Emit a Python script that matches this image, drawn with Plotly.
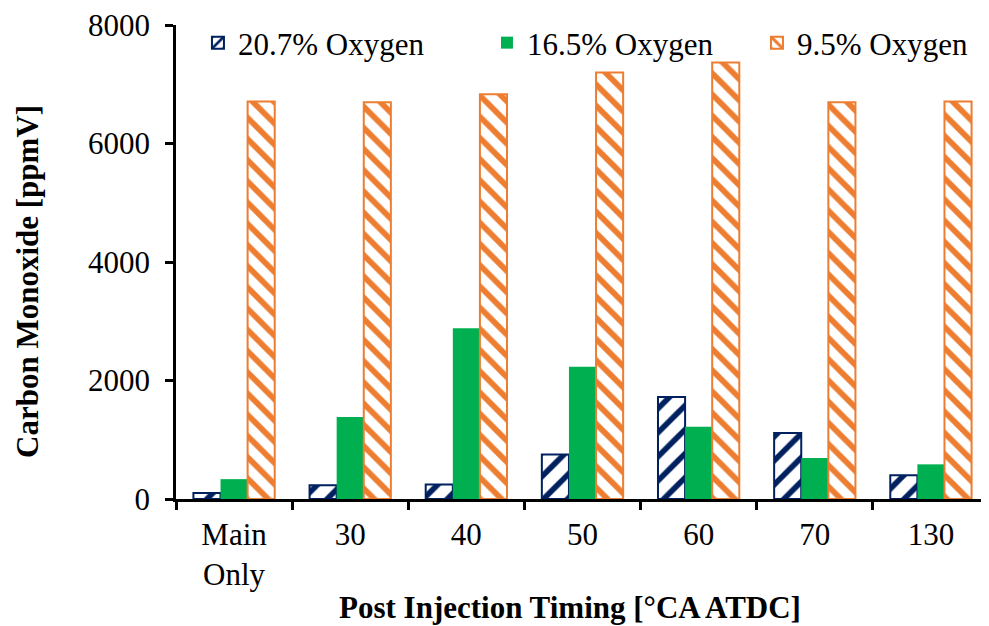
import plotly.graph_objects as go

categories = ["Main<br>Only", "30", "40", "50", "60", "70", "130"]
series_names = ["20.7% Oxygen", "16.5% Oxygen", "9.5% Oxygen"]
co_20_7 = [100, 230, 245, 750, 1720, 1115, 400]
co_16_5 = [335, 1385, 2880, 2230, 1220, 690, 585]
co_9_5 = [6710, 6695, 6830, 7200, 7365, 6695, 6710]
y_ticks = [0, 2000, 4000, 6000, 8000]

NAVY = "#002060"
GREEN = "#00B050"
ORANGE = "#ED7D31"
FONT = "Liberation Serif"

fig = go.Figure()
fig.add_trace(go.Bar(
    x=categories, y=co_20_7, name=series_names[0], legend="legend",
    marker=dict(color="white", line=dict(color=NAVY, width=2),
                pattern=dict(shape="/", fgcolor=NAVY, bgcolor="white", size=17,
                             solidity=0.33, fgopacity=1, fillmode="replace")),
))
fig.add_trace(go.Bar(
    x=categories, y=co_16_5, name=series_names[1], legend="legend2",
    marker=dict(color=GREEN, line=dict(color=GREEN, width=0)),
))
fig.add_trace(go.Bar(
    x=categories, y=co_9_5, name=series_names[2], legend="legend3",
    marker=dict(color="white", line=dict(color=ORANGE, width=2),
                pattern=dict(shape="\\", fgcolor=ORANGE, bgcolor="white", size=15,
                             solidity=0.38, fgopacity=1, fillmode="replace")),
))

leg_common = dict(orientation="h", yanchor="top", xanchor="left", y=1.019,
                  bgcolor="rgba(0,0,0,0)", font=dict(family=FONT, size=31))

fig.update_layout(
    width=981, height=618,
    margin=dict(l=168, r=0, t=15, b=127),
    paper_bgcolor="white", plot_bgcolor="white",
    font=dict(family=FONT, size=31, color="black"),
    barmode="group", bargap=0.3, bargroupgap=0,
    showlegend=True,
    legend=dict(x=0.027, **leg_common),
    legend2=dict(x=0.3825, **leg_common),
    legend3=dict(x=0.7146, **leg_common),
    xaxis=dict(
        type="category", range=[-0.5, 6.5],
        showline=True, linecolor="black", linewidth=2.5,
        ticks="outside", ticklen=8, tickwidth=2.5, tickcolor="black",
        tickson="boundaries", showgrid=False, zeroline=False,
        ticklabelstandoff=6, ticklabeloverflow="allow",
        tickfont=dict(family=FONT, size=31),
    ),
    yaxis=dict(
        range=[0, 8000], tickvals=y_ticks,
        showline=True, linecolor="black", linewidth=2.5,
        ticks="outside", ticklen=8, tickwidth=2.5, tickcolor="black",
        showgrid=False, zeroline=False,
        ticklabelstandoff=9, ticklabeloverflow="allow",
        tickfont=dict(family=FONT, size=31),
    ),
    annotations=[
        dict(text="<b>Post Injection Timing [°CA ATDC]</b>", xref="paper", yref="paper",
             x=0.485, y=-0.229, xanchor="center", yanchor="middle", showarrow=False,
             font=dict(family=FONT, size=31)),
        dict(text="<b>Carbon Monoxide [ppmV]</b>", xref="paper", yref="paper",
             x=-0.182, y=0.458, xanchor="center", yanchor="middle", textangle=-90,
             showarrow=False, font=dict(family=FONT, size=31)),
    ],
)

fig.write_html("out.html")
